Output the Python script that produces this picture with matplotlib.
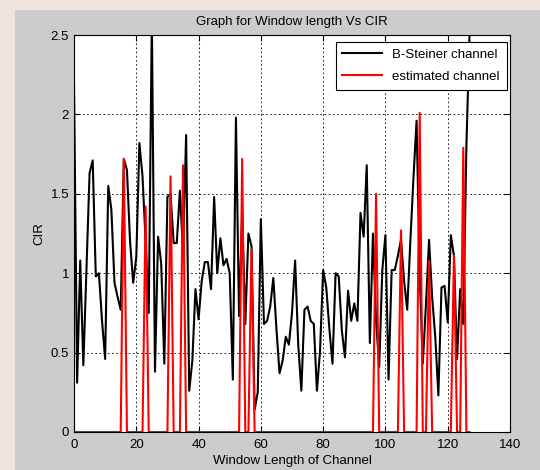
import numpy as np
import matplotlib.pyplot as plt
from matplotlib.patches import Rectangle

plt.rcParams['font.family'] = ['Liberation Sans', 'DejaVu Sans']

# Ventana (muestras 0..127)
window = np.arange(128)

# Canal B-Steiner
b_steiner = [
    2.20, 0.31, 1.08, 0.42, 1.02, 1.63, 1.71, 0.98, 1.00, 0.70,
    0.46, 1.55, 1.40, 0.94, 0.85, 0.77, 1.72, 1.65, 1.20, 0.94,
    1.10, 1.82, 1.61, 1.20, 0.75, 2.60, 0.38, 1.23, 1.06, 0.43,
    1.48, 1.50, 1.19, 1.19, 1.52, 1.13, 1.87, 0.26, 0.45, 0.90,
    0.71, 0.95, 1.07, 1.07, 0.90, 1.48, 1.00, 1.22, 1.05, 1.09,
    1.00, 0.33, 1.98, 0.73, 1.38, 0.68, 1.25, 1.17, 0.14, 0.25,
    1.34, 0.68, 0.70, 0.79, 0.97, 0.65, 0.37, 0.45, 0.60, 0.55,
    0.75, 1.08, 0.55, 0.26, 0.77, 0.79, 0.70, 0.68, 0.26, 0.51,
    1.02, 0.91, 0.65, 0.43, 1.00, 0.98, 0.64, 0.47, 0.89, 0.70,
    0.81, 0.70, 1.38, 1.23, 1.68, 0.56, 1.25, 0.70, 0.41, 1.02,
    1.24, 0.33, 1.02, 1.02, 1.11, 1.21, 0.95, 0.77, 1.20, 1.60,
    1.96, 1.00, 0.43, 0.80, 1.21, 0.85, 0.60, 0.23, 0.91, 0.92,
    0.69, 1.24, 1.11, 0.46, 0.90, 0.68, 1.80, 2.50,
]

# Canal estimado: cero salvo en estas muestras
est_pos = [16, 23, 31, 35, 54, 57, 97, 105, 111, 114, 122, 125]
est_val = [1.72, 1.42, 1.61, 1.68, 1.72, 1.15, 1.50, 1.27, 2.01, 1.08, 1.11, 1.79]

estimated = np.zeros(len(window))
estimated[est_pos] = est_val

x_ticks = [0, 20, 40, 60, 80, 100, 120, 140]
y_ticks = [0, 0.5, 1, 1.5, 2, 2.5]
y_labels = ['0', '0.5', '1', '1.5', '2', '2.5']

fig = plt.figure(figsize=(5.4, 4.7), dpi=100)
fig.patch.set_facecolor('#efe4dd')
# fondo gris tipo MATLAB
fig.add_artist(Rectangle((15 / 540, 0), 1, 460 / 470, transform=fig.transFigure,
                         facecolor='#cccccc', edgecolor='none', zorder=-10))

ax = fig.add_axes([74 / 540, 38 / 470, 436 / 540, 397 / 470])
ax.set_facecolor('white')
ax.plot(window, b_steiner, color='k', lw=1.5, label='B-Steiner channel')
ax.plot(window, estimated, color='r', lw=1.5, label='estimated channel')

ax.set_xlim(0, 140)
ax.set_ylim(0, 2.5)
ax.set_xticks(x_ticks)
ax.set_yticks(y_ticks)
ax.set_yticklabels(y_labels)
ax.grid(True, color='k', linestyle=(0, (2, 3)), lw=0.6)
ax.tick_params(direction='in', top=True, right=True, length=4, labelsize=9.5,
               colors='k')
ax.tick_params(axis='x', pad=5)
for s in ax.spines.values():
    s.set_linewidth(0.8)

ax.set_title('Graph for Window length Vs CIR', fontsize=9.5, pad=7)
ax.set_xlabel('Window Length of Channel', fontsize=9.5, labelpad=3)
ax.set_ylabel('CIR', fontsize=9.5, labelpad=4)

leg = ax.legend(loc='upper right', bbox_to_anchor=(0.992, 0.982), borderaxespad=0,
                fancybox=False, edgecolor='k', framealpha=1, fontsize=9.5,
                handlelength=3.0, borderpad=0.5, labelspacing=0.75)
leg.get_frame().set_linewidth(0.8)

fig.savefig('out.png', dpi=100, facecolor=fig.get_facecolor())
